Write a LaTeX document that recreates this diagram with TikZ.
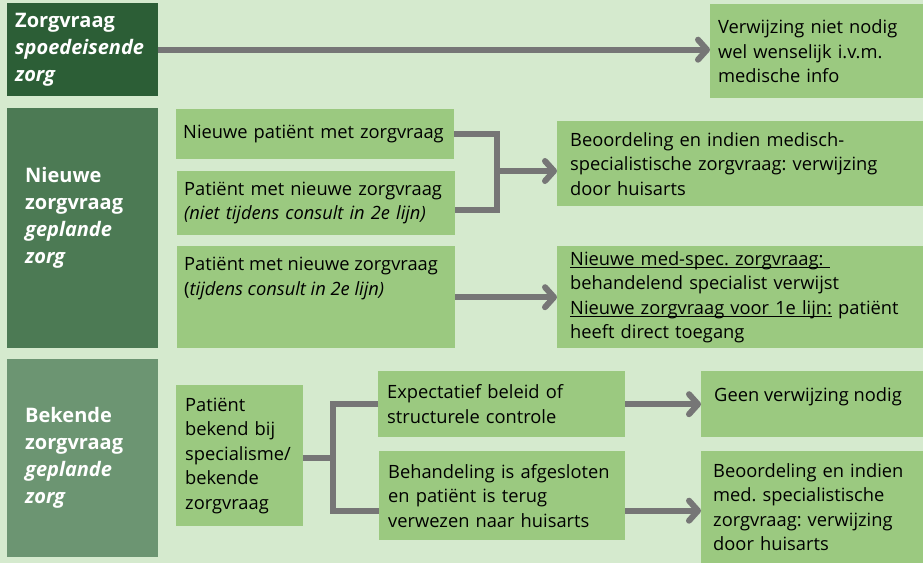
\documentclass[tikz,border=0pt]{standalone}
\usepackage{fontspec}
\setmainfont{Open Sans}
\usetikzlibrary{arrows.meta}
\definecolor{achtergrond}{HTML}{D5EACE}
\definecolor{vakgroen}{HTML}{9BC980}
\definecolor{spoedgroen}{HTML}{2C5E36}
\definecolor{nieuwgroen}{HTML}{4C7A54}
\definecolor{bekendgroen}{HTML}{6C9572}
\definecolor{pijlgrijs}{HTML}{767676}
\newsavebox{\streepdoos}
\newcommand{\onderstreep}[1]{\leavevmode\sbox{\streepdoos}{#1}\rlap{\rule[-2.5pt]{\wd\streepdoos}{1pt}}\usebox{\streepdoos}}
\tikzset{
  vak/.style={rectangle, fill=vakgroen, anchor=north west, align=left, inner ysep=0pt,
    font=\fontsize{18.3}{24.5}\selectfont\frenchspacing},
  kop/.style={vak, text=white, font=\fontsize{20}{27}\selectfont\bfseries},
  lijn/.style={draw=pijlgrijs, line width=6pt},
  pijl/.style={lijn, -{Straight Barb[round, length=9pt, width=20pt]}},
}
\begin{document}
\begin{tikzpicture}[x=1pt, y=-1pt]
\fill[achtergrond] (0,0) rectangle (923,563);
\useasboundingbox (0,0) rectangle (923,563);

% spoedeisende zorg
\node[kop, fill=spoedgroen, minimum width=151pt, minimum height=93pt, text width=135pt, inner xsep=8pt] (spoed) at (7,3) {Zorgvraag\\\textit{spoedeisende}\\\textit{zorg}};
\node[vak, minimum width=213pt, minimum height=94pt, text width=197pt, inner xsep=8pt] (verwijzing) at (710,4) {Verwijzing niet nodig\\wel wenselijk i.v.m.\\medische info};
\draw[pijl] (spoed.east) -- (spoed.east -| verwijzing.west);

% nieuwe zorgvraag
\node[kop, fill=nieuwgroen, minimum width=151pt, minimum height=240pt, inner xsep=18pt] (nieuwzv) at (7,108) {\parbox[c][240pt][t]{115pt}{\vspace*{59pt}Nieuwe\\zorgvraag\\\textit{geplande}\\\textit{zorg}}};
\node[vak, minimum width=278pt, minimum height=50pt, text width=264pt, inner xsep=7pt] (nieuwpat) at (176,109) {Nieuwe patiënt met zorgvraag};
\node[vak, minimum width=278pt, minimum height=64pt, text width=264pt, inner xsep=7pt] (nietconsult) at (177,171) {Patiënt met nieuwe zorgvraag\\\textit{(niet tijdens consult in 2e lijn)}};
\node[vak, minimum width=278pt, minimum height=102pt, inner xsep=7pt] (tijdens) at (177,246) {\parbox[c][102pt][t]{264pt}{\vspace*{11pt}Patiënt met nieuwe zorgvraag\\(\textit{tijdens consult in 2e lijn)}}};
\node[vak, minimum width=366pt, minimum height=85pt, text width=340pt, inner xsep=13pt] (beoordeling) at (557,121) {Beoordeling en indien medisch-\\specialistische zorgvraag: verwijzing\\door huisarts};
\node[vak, minimum width=366pt, minimum height=102pt, text width=340pt, inner xsep=13pt] (medspec) at (557,246) {\onderstreep{Nieuwe med-spec. zorgvraag:\ }\\behandelend specialist verwijst\\\onderstreep{Nieuwe zorgvraag voor 1e lijn:} patiënt\\heeft direct toegang};
\coordinate (splits1) at (497,171);
\draw[lijn] (nieuwpat.east) -| (splits1) |- ([yshift=-7pt]nietconsult.east);
\draw[pijl] (splits1) -- (splits1 -| beoordeling.west);
\draw[pijl] (tijdens.east) -- (tijdens.east -| medspec.west);

% bekende zorgvraag
\node[kop, fill=bekendgroen, minimum width=151pt, minimum height=198pt, text width=115pt, inner xsep=18pt] (bekendzv) at (7,359) {Bekende\\zorgvraag\\\textit{geplande}\\\textit{zorg}};
\node[vak, minimum width=127pt, minimum height=141pt, text width=109pt, inner xsep=9pt] (bekend) at (176,385) {Patiënt\\bekend bij\\specialisme/\\bekende\\zorgvraag};
\node[vak, minimum width=247pt, minimum height=66pt, text width=229pt, inner xsep=9pt] (expect) at (378,371) {Expectatief beleid of\\structurele controle};
\node[vak, minimum width=246pt, minimum height=89pt, text width=228pt, inner xsep=9pt] (behand) at (379,451) {Behandeling is afgesloten\\en patiënt is terug\\verwezen naar huisarts};
\node[vak, minimum width=222pt, minimum height=66pt, inner xsep=13pt] (geen) at (701,371) {\parbox[c][66pt][t]{196pt}{\vspace*{16pt}Geen verwijzing nodig}};
\node[vak, minimum width=222pt, minimum height=112pt, text width=198pt, inner xsep=12pt] (beoord2) at (701,451) {Beoordeling en indien\\med. specialistische\\zorgvraag: verwijzing\\door huisarts};
\coordinate (splits2) at (333,458);
\draw[lijn] (bekend.east |- splits2) -- (splits2);
\draw[lijn] (expect.west) -| (splits2) |- ([yshift=-15pt]behand.west);
\draw[pijl] (expect) -- (geen);
\draw[pijl] ([yshift=-15pt]behand.east) -- ([yshift=-15pt]behand.east -| beoord2.west);
\end{tikzpicture}
\end{document}
